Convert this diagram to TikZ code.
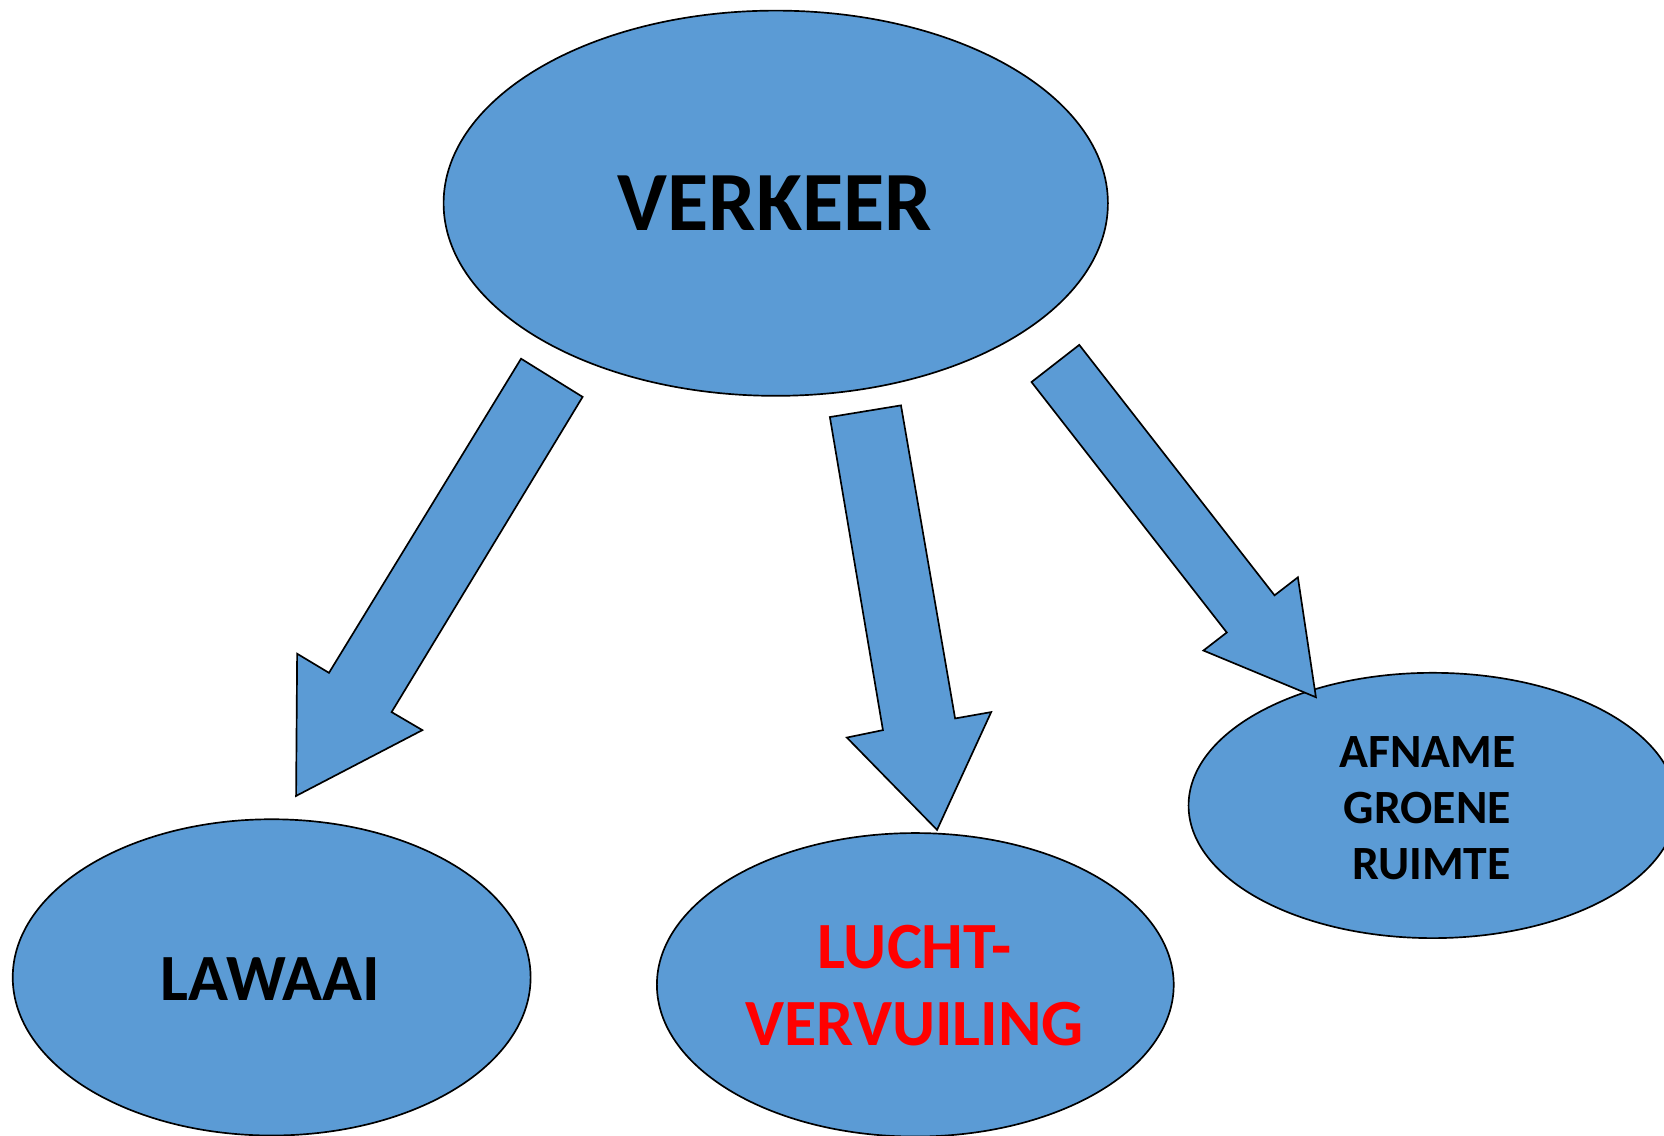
\documentclass[tikz,border=0pt]{standalone}
\usepackage{fontspec}
\setmainfont{Carlito}
\definecolor{blobblue}{HTML}{5B9BD5}
\definecolor{txtred}{HTML}{FF0000}
\tikzset{
  blob/.style={fill=blobblue, draw=black, line width=0.45pt},
  blockarrow/.style={fill=blobblue, draw=black, line width=0.45pt, line join=miter},
  bigtxt/.style={font=\bfseries\fontsize{22.6}{27}\selectfont, anchor=base, inner sep=0pt},
  midtxt/.style={font=\bfseries\fontsize{17.7}{20.5}\selectfont, anchor=base, inner sep=0pt, align=center},
  smalltxt/.style={font=\bfseries\fontsize{12.8}{15.1}\selectfont, inner sep=0pt, align=center}
}
\begin{document}
\begin{tikzpicture}[x=0.1mm, y=-0.1mm]
\useasboundingbox (0,0) rectangle (1568,1070);
\clip (0,0) rectangle (1568,1070);
\fill[white] (0,0) rectangle (1568,1070);
% ellipses
\draw[blob] (731,191.5) ellipse [x radius=313, y radius=181.5];
\draw[blob] (256,921) ellipse [x radius=244, y radius=149];
\draw[blob] (862.5,928) ellipse [x radius=243.5, y radius=143];
\draw[blob] (1350,759) ellipse [x radius=230, y radius=125];
% block arrows
\draw[blockarrow] (491,338) -- (549,374) -- (369,671) -- (398,688) -- (279,750) -- (280,616) -- (310,634) -- cycle;
\draw[blockarrow] (782,393) -- (849,382) -- (900,677) -- (934,671) -- (883,782) -- (798,695) -- (832,688) -- cycle;
\draw[blockarrow] (1017,325) -- (1201,561) -- (1223,544) -- (1240,657) -- (1134,613) -- (1156,596) -- (972,360) -- cycle;
% texts
\node[bigtxt] (tverkeer) at (730,217) {VERKEER};
\node[midtxt] (tlawaai) at (255,943) {LAWAAI};
\node[midtxt, text=txtred] (tlucht1) at (862,913) {LUCHT-};
\node[midtxt, text=txtred] (tlucht2) at (862,985) {VERVUILING};
\node[smalltxt, anchor=base] (tafname) at (1345,723) {AFNAME};
\node[smalltxt, anchor=base] (tgroene) at (1345,776) {GROENE};
\node[smalltxt, anchor=base] (truimte) at (1349,829) {RUIMTE};
\end{tikzpicture}
\end{document}
